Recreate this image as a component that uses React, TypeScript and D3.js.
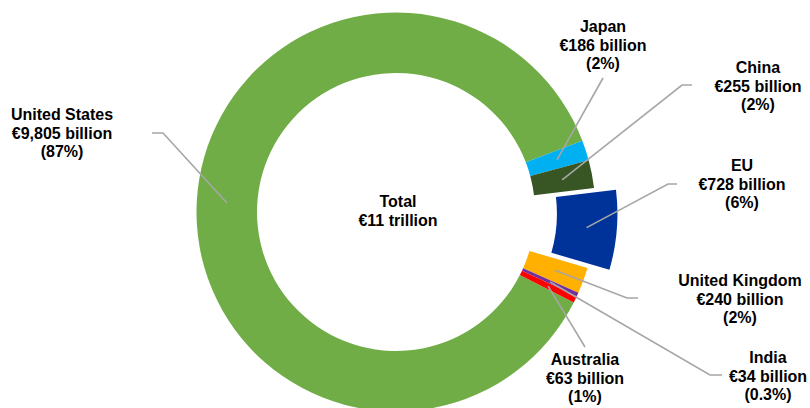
import React from "react";
import * as d3 from "d3";

const countries = ["United States", "Japan", "China", "EU", "United Kingdom", "India", "Australia"];
const values = [9805, 186, 255, 728, 240, 34, 63];
const shareLabels = ["87%", "2%", "2%", "6%", "2%", "0.3%", "1%"];
const colors = ["#70AD47", "#00B0F0", "#375623", "#003399", "#FFB000", "#7030A0", "#FF0000"];
const explode = [0, 0, 0, 22, 0, 0, 0];
const totalLabel = ["Total", "€11 trillion"];

// label layout: text centre x, first baseline y, leader elbow points
const labelPos: [number, number][] = [
  [62, 120], [603, 32], [758, 73], [742, 171], [740, 286], [768, 363], [585, 365],
];
const leaderPts: [number, number][][] = [
  [[163, 133], [152, 133]],
  [[603, 78]],
  [[682, 85], [692, 85]],
  [[668, 184], [677, 184]],
  [[627, 298], [638, 298]],
  [[710, 375], [722, 375]],
  [[585, 347]],
];

const W = 810, H = 408;
const cx = 396, cy = 212;
const rOuter = 199.5, rInner = 139;
const fmt = d3.format(",");

export default function App() {
  const deg = Math.PI / 180;
  const pie = d3.pie<number>().sort(null).value((d) => d)
    .startAngle(117 * deg).endAngle((117 + 360) * deg);
  const arcs = pie(values);
  const arc = d3.arc<d3.PieArcDatum<number>>().innerRadius(rInner).outerRadius(rOuter);
  const line = d3.line();
  const font = "'Liberation Sans', Arial, sans-serif";
  const fs = 16, lh = 18.5;

  return (
    <svg width={W} height={H} style={{ position: "absolute", left: 0, top: 0, background: "#fff" }}
      fontFamily={font}>
      <g transform={`translate(${cx},${cy})`}>
        {arcs.map((a, i) => {
          const mid = (a.startAngle + a.endAngle) / 2;
          const dx = Math.sin(mid) * explode[i];
          const dy = -Math.cos(mid) * explode[i];
          return (
            <path key={i} d={arc(a) || ""} fill={colors[i]} transform={`translate(${dx},${dy})`} />
          );
        })}
      </g>
      {arcs.map((a, i) => {
        const mid = (a.startAngle + a.endAngle) / 2;
        const [ax, ay] = arc.centroid(a);
        const sx = cx + ax + Math.sin(mid) * explode[i];
        const sy = cy + ay - Math.cos(mid) * explode[i];
        const pts: [number, number][] = [[sx, sy], ...leaderPts[i]];
        return <path key={"l" + i} d={line(pts) || ""} fill="none" stroke="#A6A6A6" strokeWidth={1.6} />;
      })}
      {countries.map((c, i) => {
        const [x, y] = labelPos[i];
        const lines = [c, `€${fmt(values[i])} billion`, `(${shareLabels[i]})`];
        return (
          <text key={"t" + i} x={x} y={y} textAnchor="middle" fontSize={fs} fontWeight="bold" fill="#000">
            {lines.map((t, j) => (
              <tspan key={j} x={x} y={y + j * lh}>{t}</tspan>
            ))}
          </text>
        );
      })}
      <text x={398} y={207} textAnchor="middle" fontSize={fs} fontWeight="bold" fill="#000">
        {totalLabel.map((t, j) => (
          <tspan key={j} x={398} y={207 + j * lh}>{t}</tspan>
        ))}
      </text>
    </svg>
  );
}
